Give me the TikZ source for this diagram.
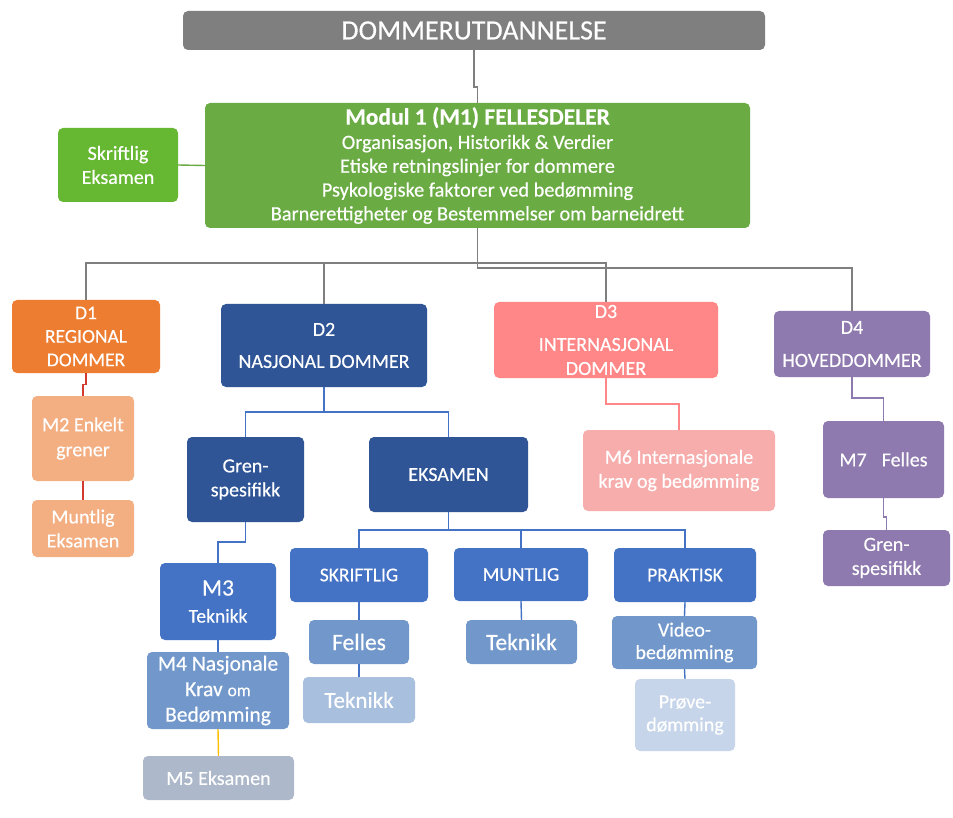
\documentclass[tikz,border=0pt]{standalone}
\usepackage{fontspec}
\setmainfont{Carlito}[FakeBold=0.35]
\usetikzlibrary{calc}
\definecolor{cgray}{HTML}{7F7F7F}
\definecolor{cgreen}{HTML}{6AAC43}
\definecolor{cgreenb}{HTML}{66B832}
\definecolor{corange}{HTML}{ED7D31}
\definecolor{corangel}{HTML}{F3AE82}
\definecolor{cdblue}{HTML}{2F5597}
\definecolor{cblue}{HTML}{4472C4}
\definecolor{cmblue}{HTML}{7298CB}
\definecolor{clblue}{HTML}{A8BFDD}
\definecolor{cvlblue}{HTML}{C6D5EA}
\definecolor{cslate}{HTML}{ADB9CA}
\definecolor{csalmon}{HTML}{FF8787}
\definecolor{cpink}{HTML}{F8ADAD}
\definecolor{cpurple}{HTML}{8E7AAE}
\definecolor{cred}{HTML}{D23A2E}
\definecolor{cyellow}{HTML}{FFC000}
\newcommand{\mkbox}[7][]{\node[box,#1,minimum width={(#5-#3)*1pt},minimum height={(#6-#4)*1pt}] (#2) at ({(#3+#5)/2},{(#4+#6)/2}) {#7};}
\newcommand{\fs}[2]{\fontsize{#1}{#2}\selectfont}
\begin{document}
\begin{tikzpicture}[x=1pt,y=-1pt,
  box/.style={rounded corners=5pt, inner sep=0pt, text=white, align=center, font=\fs{20}{24}},
  ln/.style={line width=1.4pt},
  grayline/.style={ln, draw=cgray},
  blueline/.style={ln, draw=cblue},
  redline/.style={ln, draw=cred},
  greenline/.style={ln, draw=cgreen},
  salmonline/.style={ln, draw=csalmon},
  purpleline/.style={ln, draw=cpurple},
  yellowline/.style={ln, draw=cyellow}]
\useasboundingbox (0,0) rectangle (953,818);
\fill[white] (0,0) rectangle (953,818);

% boxes
\mkbox[fill=cgray, font=\fs{28}{32}]{title}{183}{11}{765}{50}{DOMMERUTDANNELSE}
\mkbox[fill=cgreen, font=\fs{20.3}{23.8}]{m1}{205}{103}{750}{228}{{\bfseries\fs{23.5}{26}Modul 1 (M1) FELLESDELER}\\[0.5pt]Organisasjon, Historikk \& Verdier\\Etiske retningslinjer for dommere\\Psykologiske faktorer ved bedømming\\Barnerettigheter og Bestemmelser om barneidrett}
\mkbox[fill=cgreenb]{skr}{58}{128}{178}{202}{Skriftlig\\Eksamen}

\mkbox[fill=corange, font=\fs{19.5}{23.5}]{d1}{12}{300}{160}{373}{D1\\REGIONAL\\DOMMER}
\mkbox[fill=corangel, font=\fs{20}{25}]{m2}{32}{396}{134}{481}{M2 Enkelt\\grener}
\mkbox[fill=corangel]{mex}{32}{500}{134}{557}{Muntlig\\Eksamen}

\mkbox[fill=cdblue, font=\fs{20}{32}]{d2}{221}{304}{427}{387}{D2\\NASJONAL DOMMER}
\mkbox[fill=cdblue]{gren}{187}{437}{304}{522}{Gren-\\spesifikk}
\mkbox[fill=cdblue]{eks}{369}{437}{528}{512}{EKSAMEN}

\mkbox[fill=cblue, font=\fs{19.5}{27}]{m3}{160}{563}{276}{640}{{\fs{23.5}{27}M3}\\Teknikk}
\mkbox[fill=cmblue, font=\fs{21.5}{25.5}]{m4}{147}{652}{289}{729}{M4 Nasjonale\\Krav {\fs{17.5}{25.5}om}\\Bedømming}
\mkbox[fill=cslate]{m5}{143}{756}{294}{800}{M5 Eksamen}

\mkbox[fill=cblue, font=\fs{19.5}{24}]{skrf}{290}{548}{428}{602}{SKRIFTLIG}
\mkbox[fill=cmblue, font=\fs{23.5}{27}]{fel}{309}{620}{409}{664}{Felles}
\mkbox[fill=clblue, font=\fs{23}{27}]{tek1}{303}{677}{415}{723}{Teknikk}

\mkbox[fill=cblue, font=\fs{19.5}{24}]{munt}{454}{548}{588}{601}{MUNTLIG}
\mkbox[fill=cmblue, font=\fs{23.5}{27}]{tek2}{466}{620}{577}{664}{Teknikk}

\mkbox[fill=cblue, font=\fs{19.5}{24}]{prak}{614}{548}{756}{602}{PRAKTISK}
\mkbox[fill=cmblue, font=\fs{20}{22.5}]{vid}{612}{616}{757}{669}{Video-\\bedømming}
\mkbox[fill=cvlblue, font=\fs{20}{23}]{prov}{635}{679}{735}{751}{Prøve-\\dømming}

\mkbox[fill=csalmon, font=\fs{20}{24}]{d3}{494}{302}{718}{378}{D3\\[9pt]INTERNASJONAL\\DOMMER}
\mkbox[fill=cpink]{m6}{583}{430}{775}{511}{M6 Internasjonale\\krav og bedømming}

\mkbox[fill=cpurple, font=\fs{20}{33}]{d4}{774}{311}{930}{377}{D4\\HOVEDDOMMER}
\mkbox[fill=cpurple]{m7}{823}{421}{944}{498}{M7\hspace{15pt}Felles}
\mkbox[fill=cpurple]{gren2}{823}{530}{950}{586}{Gren-\\spesifikk}

% helper levels
\coordinate (hA) at (0,263);
\coordinate (hB) at (0,268);
\coordinate (hC) at (0,412);
\coordinate (hD) at (0,530);
\coordinate (hE) at (0,542);
\coordinate (hF) at (0,404);
\coordinate (hG) at (0,398);
\coordinate (hH) at (0,87);

% connectors
\draw[grayline] (title.south) -- (title.south |- hH) -- (m1.north |- hH) -- (m1.north);
\draw[greenline] (skr.east) -- (m1.west);
\draw[grayline] (m1.south) -- (m1.south |- hB) -| (d4.north);
\draw[grayline] (d1.north) -- (d1.north |- hA) -| (d3.north);
\draw[grayline] (d2.north) -- (d2.north |- hA);

\draw[redline] (d1.south) |- ($(d1.south)!0.5!(m2.north)$) -| (m2.north);
\draw[redline] (m2.south) |- ($(m2.south)!0.5!(mex.north)$) -| (mex.north);

\draw[blueline] (d2.south) -- (d2.south |- hC);
\draw[blueline] (gren.north) -- (gren.north |- hC) -- (eks.north |- hC) -- (eks.north);
\draw[blueline] (gren.south) -- (gren.south |- hE) -| (m3.north);
\draw[blueline] (m3.south) -- (m4.north);
\draw[yellowline] (m4.south) -- (m5.north);

\draw[blueline] (eks.south) -- (eks.south |- hD);
\draw[blueline] (skrf.north) -- (skrf.north |- hD) -- (prak.north |- hD) -- (prak.north);
\draw[blueline] (munt.north) -- (munt.north |- hD);
\draw[blueline] (skrf.south) -- (fel.north);
\draw[blueline] (fel.south) -- (tek1.north);
\draw[blueline] (munt.south) -- (tek2.north);
\draw[blueline] (prak.south) -- (vid.north);
\draw[blueline] (vid.south) -- (prov.north);

\draw[salmonline] (d3.south) -- (d3.south |- hF) -| (m6.north);
\draw[purpleline] (d4.south) -- (d4.south |- hG) -| (m7.north);
\draw[purpleline] (m7.south) |- ($(m7.south)!0.6!(gren2.north)$) -| (gren2.north);
\end{tikzpicture}
\end{document}
